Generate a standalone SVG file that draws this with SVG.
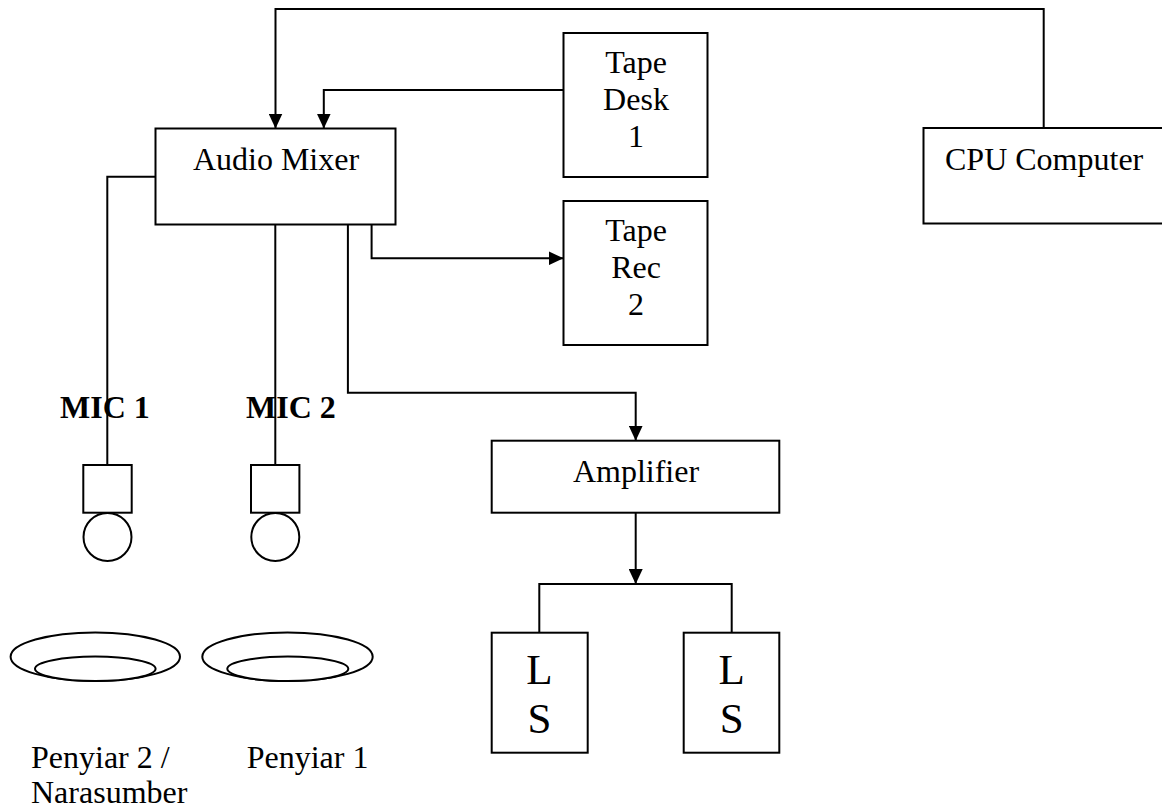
<svg xmlns="http://www.w3.org/2000/svg" width="1162" height="809" viewBox="0 0 1162 809">
<style>
.box{fill:#fff;stroke:#000;stroke-width:2}
.ln{fill:none;stroke:#000;stroke-width:2}
.t{font-family:"Liberation Serif","Times New Roman",serif;font-size:32px;fill:#000}
.c{text-anchor:middle}
.b{font-weight:bold}
.big{font-size:43px}
</style>
<defs>
<marker id="arr" viewBox="0 0 15 14" refX="15" refY="7" markerWidth="15" markerHeight="14" markerUnits="userSpaceOnUse" orient="auto">
<path d="M0,0 L15,7 L0,14 z" fill="#000"/>
</marker>
</defs>
<rect width="1162" height="809" fill="#fff"/>

<g id="audio-mixer">
<rect class="box" x="155.5" y="128.5" width="240" height="96"/>
<text class="t c" x="276" y="170">Audio Mixer</text>
</g>
<g id="tape-desk">
<rect class="box" x="563.5" y="33" width="144" height="144"/>
<text class="t c" x="636" y="73">Tape</text>
<text class="t c" x="636" y="109.5">Desk</text>
<text class="t c" x="636" y="146.5">1</text>
</g>
<g id="tape-rec">
<rect class="box" x="563.5" y="201" width="144" height="144"/>
<text class="t c" x="636" y="241">Tape</text>
<text class="t c" x="636" y="277.5">Rec</text>
<text class="t c" x="636" y="314.5">2</text>
</g>
<g id="cpu-computer">
<rect class="box" x="923.5" y="128" width="250" height="95.5"/>
<text class="t" x="945" y="170">CPU Computer</text>
</g>
<g id="amplifier">
<rect class="box" x="491.7" y="440.7" width="287.6" height="72"/>
<text class="t c" x="636" y="482">Amplifier</text>
</g>
<g id="ls-left">
<rect class="box" x="491.7" y="632.7" width="96" height="120"/>
<text class="t c big" x="539.5" y="683.5">L</text>
<text class="t c big" x="539.5" y="732.5">S</text>
</g>
<g id="ls-right">
<rect class="box" x="683.7" y="632.7" width="95.6" height="120"/>
<text class="t c big" x="731.7" y="683.5">L</text>
<text class="t c big" x="731.7" y="732.5">S</text>
</g>
<g id="mic1">
<text class="t b" x="60" y="417.5">MIC 1</text>
<rect class="box" x="83.3" y="465" width="48.4" height="47.7"/>
<circle class="box" cx="107.5" cy="537" r="24"/>
</g>
<g id="mic2">
<text class="t b" x="246" y="417.5">MIC 2</text>
<rect class="box" x="251" y="465" width="48.4" height="47.7"/>
<circle class="box" cx="275.3" cy="537" r="24"/>
</g>
<g id="penyiar2">
<ellipse class="box" cx="95.3" cy="656.7" rx="84.7" ry="24.3"/>
<ellipse class="box" cx="95.3" cy="668.8" rx="60.3" ry="12.2"/>
<text class="t" x="31" y="768.3">Penyiar 2 /</text>
<text class="t" x="31" y="803.3">Narasumber</text>
</g>
<g id="penyiar1">
<ellipse class="box" cx="287.5" cy="656.7" rx="85.2" ry="24.3"/>
<ellipse class="box" cx="287.8" cy="668.8" rx="60.5" ry="12.2"/>
<text class="t" x="246.7" y="768.3">Penyiar 1</text>
</g>

<g id="connectors">
<path class="ln" d="M1043.7,128 V9 H275.5 V128.5" marker-end="url(#arr)"/>
<path class="ln" d="M563.5,90 H323.8 V128.5" marker-end="url(#arr)"/>
<path class="ln" d="M371.6,224.5 V258.3 H563.5" marker-end="url(#arr)"/>
<path class="ln" d="M347.9,224.5 V392.7 H635.7 V440.7" marker-end="url(#arr)"/>
<path class="ln" d="M635.7,512.7 V584" marker-end="url(#arr)"/>
<path class="ln" d="M539.3,632.7 V584 H731.7 V632.7"/>
<path class="ln" d="M155.5,176.7 H107.3 V465"/>
<path class="ln" d="M275.3,224.5 V465"/>
</g>
</svg>
